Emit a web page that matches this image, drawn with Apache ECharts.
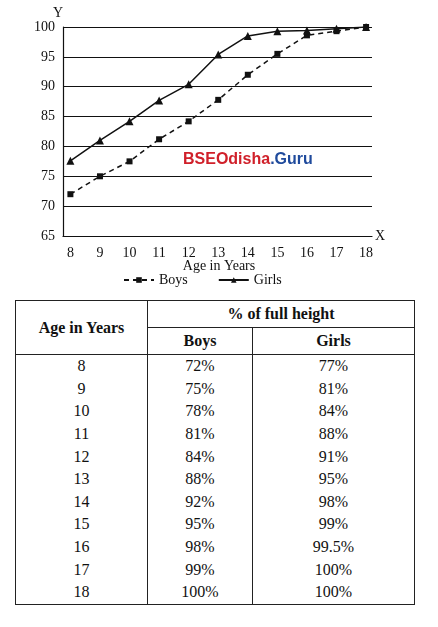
<!DOCTYPE html>
<html><head><meta charset="utf-8">
<script src="https://cdn.jsdelivr.net/npm/echarts@6/dist/echarts.min.js"></script>
<style>
body{margin:0;background:#fff;font-family:"Liberation Serif","DejaVu Serif",serif;}
#c{width:438px;height:292px;}
table{position:absolute;left:15px;top:300px;width:400px;border-collapse:collapse;font-size:16px;color:#111}
td,th{border-left:1.5px solid #222;border-right:1.5px solid #222;text-align:center;padding:0;height:22.6px}
th{border:1.5px solid #222;font-weight:bold;height:26px}
tr:last-child td{border-bottom:1.5px solid #222}
</style></head><body>
<div id="c"></div>
<table id="t"></table>
<script>
const ages=[8,9,10,11,12,13,14,15,16,17,18];
const boys=[72,75,78,81,84,88,92,95,98,99,100];
const girls=[77,81,84,88,91,95,98,99,99.5,100,100];
const boysPlot=[72,75,77.5,81.2,84.2,87.8,92,95.5,98.6,99.3,100];
const girlsPlot=[77.6,81,84.2,87.7,90.4,95.4,98.5,99.3,99.4,99.7,100];
const yTicks=[65,70,75,80,85,90,95,100];
const ch=echarts.init(document.getElementById('c'));
const ff='"Liberation Serif","DejaVu Serif",serif';
ch.setOption({
 animation:false,
 grid:{left:63,right:66,top:27,bottom:56},
 xAxis:{type:'value',min:7.75,max:18.2,interval:1,
  axisLine:{lineStyle:{color:'#111',width:1.2}},axisTick:{show:false},splitLine:{show:false},
  axisLabel:{color:'#111',fontSize:14,fontFamily:ff,margin:10,formatter:v=>ages.includes(v)?v:'',customValues:ages},
  name:'X',nameGap:3,nameTextStyle:{color:'#111',fontSize:14,fontFamily:ff}},
 yAxis:{type:'value',min:65,max:100,interval:5,
  axisLine:{show:true,lineStyle:{color:'#111',width:1.2}},axisTick:{show:false},
  splitLine:{lineStyle:{color:'#111',width:1}},
  axisLabel:{color:'#111',fontSize:14,fontFamily:ff,margin:8},
  name:'Y',nameGap:6,nameTextStyle:{color:'#111',fontSize:14,fontFamily:ff,align:'right'}},
 legend:{bottom:0,left:118,itemGap:30,itemWidth:30,itemHeight:7,textStyle:{fontSize:14,fontFamily:ff,color:'#111'},
  data:['Boys','Girls']},
 graphic:[
  {type:'text',left:'center',top:259,style:{text:'Age in Years',fontSize:14,fontFamily:ff,fill:'#111'}},
  {type:'text',left:183,top:152,style:{rich:{a:{fill:'#d0202a',fontSize:16,fontWeight:'bold',fontFamily:'Liberation Sans'},b:{fill:'#1f4a9c',fontSize:16,fontWeight:'bold',fontFamily:'Liberation Sans'}},text:'{a|BSEOdisha}{b|.Guru}'}}
 ],
 series:[
  {name:'Boys',type:'line',data:ages.map((a,i)=>[a,boysPlot[i]]),symbol:'rect',symbolSize:6,
   lineStyle:{color:'#111',width:1.5,type:[5,4]},itemStyle:{color:'#111'}},
  {name:'Girls',type:'line',data:ages.map((a,i)=>[a,girlsPlot[i]]),symbol:'triangle',symbolSize:8,
   lineStyle:{color:'#111',width:1.5},itemStyle:{color:'#111'}}
 ]
});
let h='<tr><th rowspan="2" style="width:131px">Age in Years</th><th colspan="2">% of full height</th></tr><tr><th style="width:104px">Boys</th><th>Girls</th></tr>';
ages.forEach((a,i)=>{h+=`<tr><td>${a}</td><td>${boys[i]}%</td><td>${girls[i]}%</td></tr>`;});
document.getElementById('t').innerHTML=h;
</script></body></html>
